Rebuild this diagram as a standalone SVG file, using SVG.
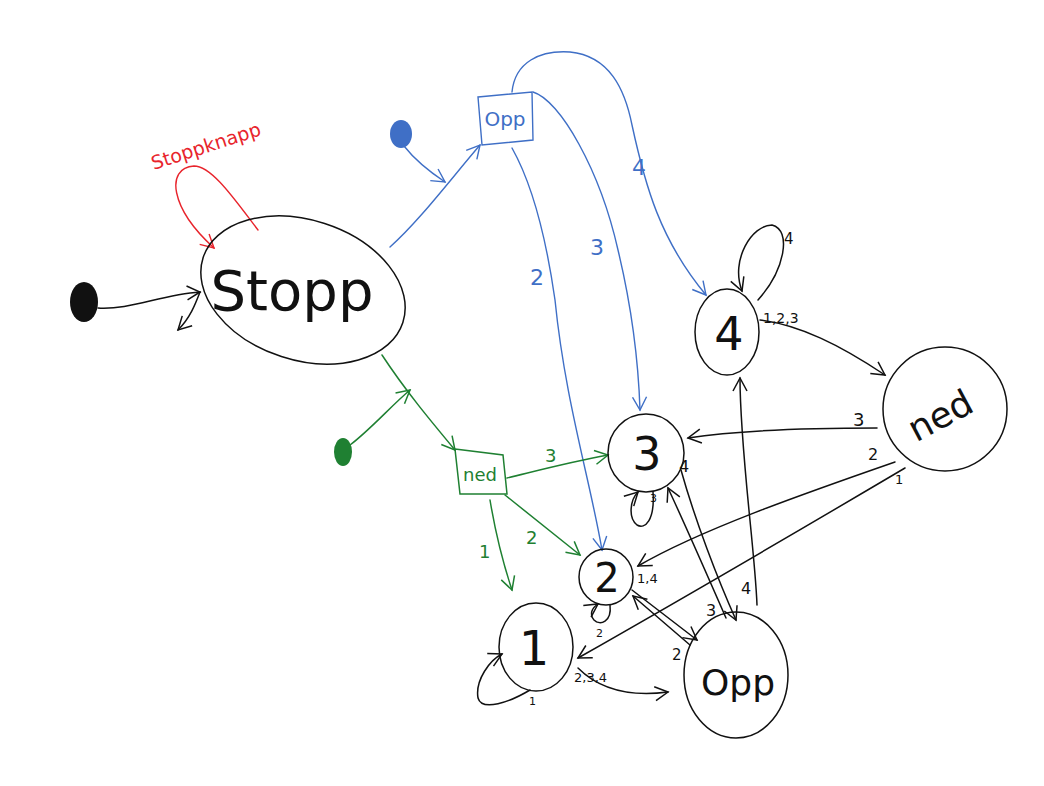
<svg xmlns="http://www.w3.org/2000/svg" width="1044" height="786" viewBox="0 0 1044 786">
<style>
.k{fill:none;stroke:#111;stroke-width:1.5;stroke-linecap:round}
.b{fill:none;stroke:#3f6fc6;stroke-width:1.4;stroke-linecap:round}
.g{fill:none;stroke:#1f8032;stroke-width:1.5;stroke-linecap:round}
.r{fill:none;stroke:#e8242c;stroke-width:1.4;stroke-linecap:round}
.t{font-family:"DejaVu Sans",sans-serif;font-weight:normal}
.tk{fill:#111}.tb{fill:#3f6fc6}.tg{fill:#1f8032}.tr{fill:#e8242c}
</style>
<defs>
<marker id="ak" viewBox="-14 -8 16 16" markerWidth="16" markerHeight="16" refX="0" refY="0" orient="auto" markerUnits="userSpaceOnUse"><path d="M-13,-7 L0,0 L-13,7" fill="none" stroke="#111" stroke-width="1.5"/></marker>
<marker id="ab" viewBox="-14 -8 16 16" markerWidth="16" markerHeight="16" refX="0" refY="0" orient="auto" markerUnits="userSpaceOnUse"><path d="M-13,-7 L0,0 L-13,7" fill="none" stroke="#3f6fc6" stroke-width="1.4"/></marker>
<marker id="ag" viewBox="-14 -8 16 16" markerWidth="16" markerHeight="16" refX="0" refY="0" orient="auto" markerUnits="userSpaceOnUse"><path d="M-13,-7 L0,0 L-13,7" fill="none" stroke="#1f8032" stroke-width="1.5"/></marker>
<marker id="ar" viewBox="-14 -8 16 16" markerWidth="16" markerHeight="16" refX="0" refY="0" orient="auto" markerUnits="userSpaceOnUse"><path d="M-13,-7 L0,0 L-13,7" fill="none" stroke="#e8242c" stroke-width="1.4"/></marker>
</defs>
<rect width="1044" height="786" fill="#fff"/>

<g id="connectors">
<path class="k" d="M98,308 C130,310 160,295 200,292" marker-end="url(#ak)"/>
<path class="k" d="M200,292 C195,305 190,318 178,330" marker-end="url(#ak)"/>
<path class="r" d="M258,230 C235,200 212,166 194,166 C165,168 170,208 214,248" marker-end="url(#ar)"/>
<path class="b" d="M404,146 C415,160 430,172 445,182" marker-end="url(#ab)"/>
<path class="b" d="M390,247 C420,220 450,180 480,145" marker-end="url(#ab)"/>
<path class="b" d="M512,148 C530,180 545,230 555,300 C565,400 590,480 602,550" marker-end="url(#ab)"/>
<path class="b" d="M533,92 C560,100 600,170 618,250 C630,300 638,350 640,410" marker-end="url(#ab)"/>
<path class="b" d="M512,92 C515,62 540,50 570,52 C610,56 625,90 632,125 C645,185 660,240 706,295" marker-end="url(#ab)"/>
<path class="g" d="M350,445 C370,430 392,405 410,390" marker-end="url(#ag)"/>
<path class="g" d="M382,355 C405,390 430,420 455,450" marker-end="url(#ag)"/>
<path class="g" d="M507,478 C540,470 570,462 608,455" marker-end="url(#ag)"/>
<path class="g" d="M505,495 C530,515 555,535 580,555" marker-end="url(#ag)"/>
<path class="g" d="M490,500 C495,530 502,560 512,590" marker-end="url(#ag)"/>
<path class="k" d="M760,320 C800,325 840,345 885,375" marker-end="url(#ak)"/>
<path class="k" d="M877,428 C800,428 740,430 688,438" marker-end="url(#ak)"/>
<path class="k" d="M895,462 C800,495 700,530 638,566" marker-end="url(#ak)"/>
<path class="k" d="M905,468 C800,530 680,600 578,658" marker-end="url(#ak)"/>
<path class="k" d="M681,470 C695,520 718,580 736,620" marker-end="url(#ak)"/>
<path class="k" d="M726,618 C705,570 683,520 668,488" marker-end="url(#ak)"/>
<path class="k" d="M632,590 L697,640" marker-end="url(#ak)"/>
<path class="k" d="M690,645 L633,596" marker-end="url(#ak)"/>
<path class="k" d="M757,605 C755,550 740,450 740,378" marker-end="url(#ak)"/>
<path class="k" d="M578,668 C600,690 630,697 668,692" marker-end="url(#ak)"/>
<path class="k" d="M758,300 C785,270 792,230 772,225 C752,225 730,260 742,291" marker-end="url(#ak)"/>
<path class="k" d="M653,492 C655,520 645,530 637,525 C628,518 630,500 638,492" marker-end="url(#ak)"/>
<path class="k" d="M610,605 C612,622 600,626 594,620 C589,614 592,608 598,604" marker-end="url(#ak)"/>
<path class="k" d="M530,690 C510,702 482,712 478,698 C475,680 490,660 502,654" marker-end="url(#ak)"/>
</g>

<g id="labels">
<text class="t tr" x="148" y="156" font-size="19" transform="rotate(-18 195 145)">Stoppknapp</text>
<text class="t tb" x="530" y="285" font-size="22">2</text>
<text class="t tb" x="590" y="255" font-size="22">3</text>
<text class="t tb" x="632" y="175" font-size="22">4</text>
<text class="t tg" x="545" y="462" font-size="18">3</text>
<text class="t tg" x="526" y="544" font-size="18">2</text>
<text class="t tg" x="479" y="558" font-size="18">1</text>
<text class="t tk" x="763" y="323" font-size="14">1,2,3</text>
<text class="t tk" x="784" y="244" font-size="15">4</text>
<text class="t tk" x="853" y="426" font-size="18">3</text>
<text class="t tk" x="868" y="460" font-size="16">2</text>
<text class="t tk" x="895" y="484" font-size="13">1</text>
<text class="t tk" x="679" y="472" font-size="16">4</text>
<text class="t tk" x="650" y="502" font-size="11">3</text>
<text class="t tk" x="637" y="583" font-size="13">1,4</text>
<text class="t tk" x="596" y="637" font-size="11">2</text>
<text class="t tk" x="706" y="616" font-size="16">3</text>
<text class="t tk" x="741" y="594" font-size="16">4</text>
<text class="t tk" x="672" y="660" font-size="15">2</text>
<text class="t tk" x="574" y="682" font-size="13">2,3,4</text>
<text class="t tk" x="529" y="705" font-size="11">1</text>
</g>

<g id="init_black"><ellipse cx="84" cy="302" rx="14" ry="20" fill="#111"/></g>
<g id="init_blue"><ellipse cx="401" cy="134" rx="11" ry="14" fill="#3f6fc6"/></g>
<g id="init_green"><ellipse cx="343" cy="452" rx="9" ry="14" fill="#1f8032"/></g>

<g id="stopp">
<ellipse class="k" cx="303" cy="290" rx="105" ry="70" transform="rotate(18 303 290)"/>
<text class="t tk" x="292" y="310" font-size="56" font-weight="200" text-anchor="middle">Stopp</text>
</g>
<g id="box_opp">
<polygon class="b" points="478,97 532,92 533,140 482,145"/>
<text class="t tb" x="505" y="126" font-size="20" text-anchor="middle">Opp</text>
</g>
<g id="box_ned">
<polygon class="g" points="455,449 503,455 507,494 460,494"/>
<text class="t tg" x="480" y="481" font-size="18" text-anchor="middle">ned</text>
</g>
<g id="n4">
<ellipse class="k" cx="727" cy="332" rx="32" ry="43"/>
<text class="t tk" x="729" y="350" font-size="46" text-anchor="middle">4</text>
</g>
<g id="nned">
<ellipse class="k" cx="945" cy="409" rx="62" ry="62"/>
<text class="t tk" x="940" y="428" font-size="36" text-anchor="middle" transform="rotate(-28 940 415)">ned</text>
</g>
<g id="n3">
<ellipse class="k" cx="646" cy="453" rx="38" ry="39"/>
<text class="t tk" x="647" y="470" font-size="46" text-anchor="middle">3</text>
</g>
<g id="n2">
<ellipse class="k" cx="606" cy="577" rx="27" ry="28"/>
<text class="t tk" x="607" y="592" font-size="40" text-anchor="middle">2</text>
</g>
<g id="n1">
<ellipse class="k" cx="536" cy="647" rx="37" ry="44"/>
<text class="t tk" x="534" y="665" font-size="48" text-anchor="middle">1</text>
</g>
<g id="nopp">
<ellipse class="k" cx="736" cy="675" rx="52" ry="63"/>
<text class="t tk" x="738" y="695" font-size="36" text-anchor="middle">Opp</text>
</g>
</svg>
